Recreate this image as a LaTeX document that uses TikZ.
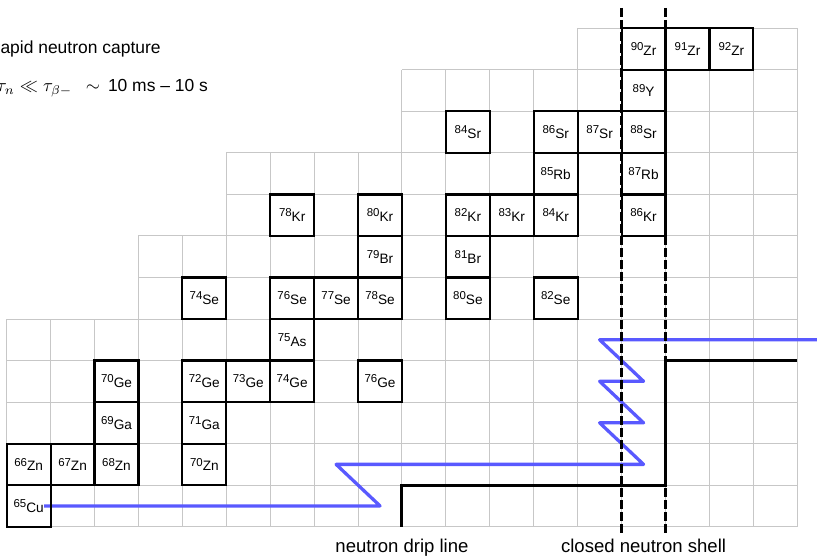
\documentclass[tikz,border=0pt]{standalone}
\usepackage{fontspec}
\setmainfont{Liberation Sans}
\newcommand{\iso}[2]{{\fontsize{6.3}{7}\selectfont\raisebox{2.6pt}{#1}}{\fontsize{7.5}{8}\selectfont #2}}
\begin{document}
\begin{tikzpicture}[x=24.156pt, y=22.84pt,
  gridline/.style={black!22, line width=0.55pt},
  isobox/.style={draw, line width=1.2pt, minimum width=24.156pt, minimum height=22.84pt, inner sep=0pt},
  rpath/.style={blue!65, line width=1.8pt, line join=round},
  drip/.style={line width=1.65pt},
  shell/.style={line width=1.3pt, dash pattern=on 5pt off 1.6pt},
  biglabel/.style={font=\fontsize{10.2}{12}\selectfont, inner sep=0pt, anchor=base},
  toplabel/.style={font=\fontsize{9.6}{11}\selectfont, inner sep=0pt, anchor=base east}]
\useasboundingbox (-0.1525,-0.7296) rectangle (18.449,12.682);
\clip (-0.1525,-0.7296) rectangle (18.449,12.682);
% grid
\foreach \ya/\yb/\xa in {0/5/0,5/7/3,7/9/5,9/11/9,11/12/13}{
  \foreach \yy in {\ya,...,\yb} \draw[gridline] (\xa,\yy) -- (18,\yy);
  \foreach \xx in {\xa,...,18} \draw[gridline] (\xx,\ya) -- (\xx,\yb);
}
% r-process path
\draw[rpath] (0.85,0.5) -- (8.5,0.5) -- (7.5,1.5) -- (14.5,1.5) -- (13.5,2.5) -- (14.5,2.5)
  -- (13.5,3.5) -- (14.5,3.5) -- (13.5,4.5) -- (18.6,4.5);
% isotopes
\foreach \c/\r/\a/\e in {0/0/65/Cu,
  0/1/66/Zn,1/1/67/Zn,2/1/68/Zn,4/1/70/Zn,
  2/2/69/Ga,4/2/71/Ga,
  2/3/70/Ge,4/3/72/Ge,5/3/73/Ge,6/3/74/Ge,8/3/76/Ge,
  6/4/75/As,
  4/5/74/Se,6/5/76/Se,7/5/77/Se,8/5/78/Se,10/5/80/Se,12/5/82/Se,
  8/6/79/Br,10/6/81/Br,
  6/7/78/Kr,8/7/80/Kr,10/7/82/Kr,11/7/83/Kr,12/7/84/Kr,14/7/86/Kr,
  12/8/85/Rb,14/8/87/Rb,
  10/9/84/Sr,12/9/86/Sr,13/9/87/Sr,14/9/88/Sr,
  14/10/89/Y,
  14/11/90/Zr,15/11/91/Zr,16/11/92/Zr}
  \node[isobox] (\e\a) at (\c+0.5,\r+0.5) {\iso{\a}{\e}};
% closed neutron shell
\coordinate (sAtop) at (14,12.49);
\coordinate (sAbot) at (14,-0.16);
\coordinate (sBtop) at (15,12.49);
\coordinate (sBbot) at (15,-0.16);
\draw[shell] (sAtop) -- (sAbot);
\draw[shell] (sBtop) -- (sBbot);
% neutron drip line
\draw[drip] (9,0) -- (9,1) -- (15,1) -- (15,4) -- (18,4);
% labels
\node[toplabel] (title) at (3.513,11.399) {rapid neutron capture};
\node[toplabel] (times) at (4.590,10.474) {$\tau_n \ll \tau_{\beta-}$\hspace{7.5pt}$\sim$\hspace{4.4pt}10 ms -- 10 s};
\node[biglabel] (driplabel) at (9,-0.626) {neutron drip line};
\node[biglabel] (shelllabel) at (14.5,-0.626) {closed neutron shell};
\end{tikzpicture}
\end{document}
